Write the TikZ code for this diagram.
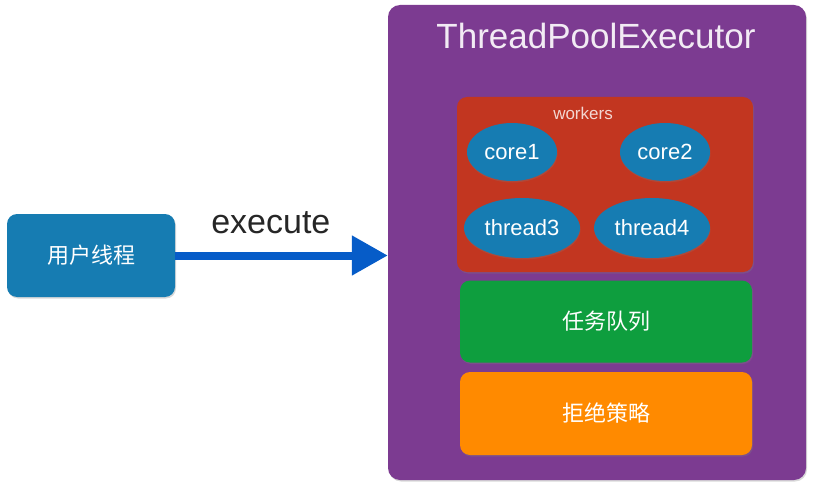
\documentclass[tikz,border=0pt]{standalone}
\usepackage{fontspec}
\setmainfont{Liberation Sans}
\newfontfamily\cjk{Noto Sans CJK SC}
\usetikzlibrary{arrows.meta,positioning,shapes.geometric,shadows}
\definecolor{tppurple}{RGB}{124,59,145}
\definecolor{tpred}{RGB}{194,54,32}
\definecolor{tpblue}{RGB}{22,124,178}
\definecolor{tpgreen}{RGB}{14,158,62}
\definecolor{tporange}{RGB}{255,138,0}
\definecolor{tparrow}{RGB}{6,92,200}
\begin{document}
\begin{tikzpicture}[x=1pt,y=-1pt,every node/.style={align=center,text=white},
    box/.style={rounded corners=10pt,minimum width=292pt,minimum height=82pt,
      drop shadow={opacity=0.3,shadow xshift=1pt,shadow yshift=-1.5pt}},
    worker/.style={ellipse,fill=tpblue,inner sep=0pt,minimum width=90pt,minimum height=58pt,
      drop shadow={opacity=0.25,shadow xshift=0.5pt,shadow yshift=-1.5pt},
      font=\fontsize{22}{26}\selectfont},
    cjkbox/.style={box,font=\cjk\fontsize{22}{26}\selectfont}]
        \useasboundingbox (0,0) rectangle (817,503);
        \node[box,fill=tppurple,minimum width=418pt,minimum height=475pt,rounded corners=12pt] (pool) at (597,242.5) {};
        \node[font=\fontsize{35}{40}\selectfont,text=white!90!tppurple] (title) at (596,36) {ThreadPoolExecutor};
        \node[box,fill=tpred,minimum width=296pt,minimum height=175pt] (workers) at (605,184.5) {};
        \node[font=\fontsize{17}{20}\selectfont,text=white!80!tpred] (wlabel) at (583,113) {workers};
        \node[worker] (core1) at (512,152) {core1};
        \node[worker] (core2) at (665,152) {core2};
        \node[worker,minimum width=116pt,minimum height=60pt] (thread3) at (522,228) {thread3};
        \node[worker,minimum width=116pt,minimum height=60pt] (thread4) at (652,228) {thread4};
        \node[cjkbox,fill=tpgreen] (queue) at (606,321.5) {任务队列};
        \node[cjkbox,fill=tporange,minimum height=83pt] (reject) at (606,413.5) {拒绝策略};
        \node[cjkbox,fill=tpblue,minimum width=168pt,minimum height=83pt] (user) at (91,255.5) {用户线程};
        \draw[tparrow,line width=8pt,-{Triangle[length=36pt,width=38pt]}] (user.east) -- (pool.west |- user.east)
          node[pos=0.45,above=14pt,text=black!85,font=\fontsize{34}{40}\selectfont] (exec) {execute};
      \end{tikzpicture}
\end{document}
